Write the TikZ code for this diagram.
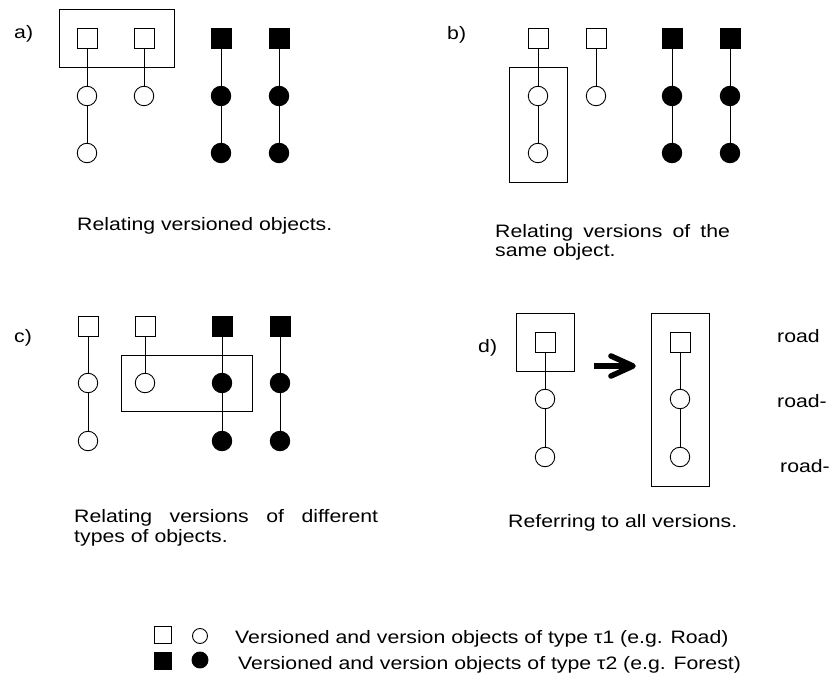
\documentclass[tikz,border=0pt]{standalone}
\usepackage{fontspec}
\setmainfont{Liberation Sans}
\begin{document}
\begin{tikzpicture}[x=1pt,y=-1pt,
  osq/.style={draw,rectangle,minimum size=20pt,inner sep=0pt,fill=white,line width=0.9pt},
  fsq/.style={osq,fill=black},
  ocirc/.style={draw,circle,minimum size=19.5pt,inner sep=0pt,fill=white,line width=0.9pt},
  fcirc/.style={ocirc,fill=black},
  link/.style={line width=0.9pt},
  grp/.style={draw,line width=0.9pt},
  txt/.style={font=\fontsize{18}{21}\selectfont,xscale=1.18,transform shape,inner sep=0pt,anchor=base west},
  bigarrow/.style={line width=5.5pt,line cap=round,line join=round}
]
\useasboundingbox (0,0) rectangle (830,692);

% ---------- panel a ----------
\node[txt] (la) at (14,39) {a)};
\draw[grp] (59,9) rectangle (174,67);
\node[osq] (a1s) at (87,38) {};
\node[osq] (a2s) at (144,38) {};
\node[fsq] (a3s) at (221,38) {};
\node[fsq] (a4s) at (279,38) {};
\node[ocirc] (a1c1) at (87,96) {};
\node[ocirc] (a1c2) at (87,153) {};
\node[ocirc] (a2c1) at (144,96) {};
\node[fcirc] (a3c1) at (221,96) {};
\node[fcirc] (a3c2) at (221,153) {};
\node[fcirc] (a4c1) at (279,96) {};
\node[fcirc] (a4c2) at (279,153) {};
\draw[link] (a1s) -- (a1c1) -- (a1c2);
\draw[link] (a2s) -- (a2c1);
\draw[link] (a3s) -- (a3c1) -- (a3c2);
\draw[link] (a4s) -- (a4c1) -- (a4c2);
\node[txt] (capa) at (77,231) {Relating versioned objects.};

% ---------- panel b ----------
\node[txt] (lb) at (447,40) {b)};
\draw[grp] (509,67) rectangle (567,182);
\node[osq] (b1s) at (538,38) {};
\node[osq] (b2s) at (596,38) {};
\node[fsq] (b3s) at (672,38) {};
\node[fsq] (b4s) at (730,38) {};
\node[ocirc] (b1c1) at (538,96) {};
\node[ocirc] (b1c2) at (538,153) {};
\node[ocirc] (b2c1) at (596,96) {};
\node[fcirc] (b3c1) at (672,96) {};
\node[fcirc] (b3c2) at (672,153) {};
\node[fcirc] (b4c1) at (730,96) {};
\node[fcirc] (b4c2) at (730,153) {};
\draw[link] (b1s) -- (b1c1) -- (b1c2);
\draw[link] (b2s) -- (b2c1);
\draw[link] (b3s) -- (b3c1) -- (b3c2);
\draw[link] (b4s) -- (b4c1) -- (b4c2);
\node[txt] (capb1) at (495,238) {\makebox[199pt][s]{Relating versions of the}};
\node[txt] (capb2) at (495,257) {same object.};

% ---------- panel c ----------
\node[txt] (lc) at (14,343) {c)};
\draw[grp] (121,355) rectangle (252,411);
\node[osq] (c1s) at (88,326) {};
\node[osq] (c2s) at (145,326) {};
\node[fsq] (c3s) at (222,326) {};
\node[fsq] (c4s) at (280,326) {};
\node[ocirc] (c1c1) at (88,383) {};
\node[ocirc] (c1c2) at (88,441) {};
\node[ocirc] (c2c1) at (145,383) {};
\node[fcirc] (c3c1) at (222,383) {};
\node[fcirc] (c3c2) at (222,441) {};
\node[fcirc] (c4c1) at (280,383) {};
\node[fcirc] (c4c2) at (280,441) {};
\draw[link] (c1s) -- (c1c1) -- (c1c2);
\draw[link] (c2s) -- (c2c1);
\draw[link] (c3s) -- (c3c1) -- (c3c2);
\draw[link] (c4s) -- (c4c1) -- (c4c2);
\node[txt] (capc1) at (74,522) {\makebox[257.5pt][s]{Relating versions of different}};
\node[txt] (capc2) at (74,542) {types of objects.};

% ---------- panel d ----------
\node[txt] (ld) at (478,353) {d)};
\draw[grp] (516,313) rectangle (574,371);
\draw[grp] (651,313) rectangle (709,486);
\node[osq] (d1s) at (545,342) {};
\node[ocirc] (d1c1) at (545,399) {};
\node[ocirc] (d1c2) at (545,457) {};
\node[osq] (d2s) at (680,342) {};
\node[ocirc] (d2c1) at (680,399) {};
\node[ocirc] (d2c2) at (680,457) {};
\draw[link] (d1s) -- (d1c1) -- (d1c2);
\draw[link] (d2s) -- (d2c1) -- (d2c2);
\coordinate (arA) at (594,366);
\coordinate (arB) at (629,366);
\coordinate (arT) at (633,366);
\coordinate (arU) at (611,356);
\coordinate (arL) at (611,376);
\draw[bigarrow,line cap=butt] (arA) -- (arB);
\draw[bigarrow] (arU) -- (arT) -- (arL);
\node[txt] (r1) at (777,343) {road};
\node[txt] (r2) at (777,407) {road-};
\node[txt] (r3) at (780,472) {road-};
\node[txt] (capd) at (508,527) {Referring to all versions.};

% ---------- legend ----------
\node[osq,minimum size=17pt] (lg1s) at (163,635) {};
\node[ocirc,minimum size=15pt] (lg1c) at (200,636) {};
\node[fsq,minimum size=17pt] (lg2s) at (163,661) {};
\node[fcirc,minimum size=16pt] (lg2c) at (200,660) {};
\node[txt] (lg1t) at (235,643) {Versioned and version objects of type τ1 (e.g. Road)};
\node[txt] (lg2t) at (238,669) {Versioned and version objects of type τ2 (e.g. Forest)};
\end{tikzpicture}
\end{document}
